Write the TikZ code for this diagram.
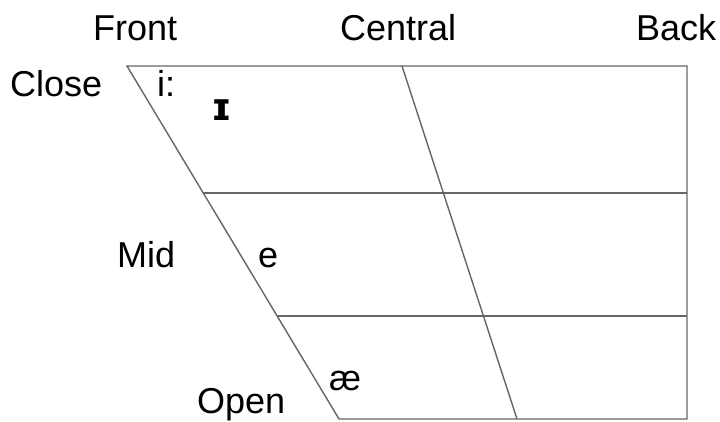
\documentclass[tikz,border=0pt]{standalone}
\usepackage{fontspec}
\setmainfont{Liberation Sans}
\newfontfamily\ipafont{DejaVu Sans}
\begin{document}
\begin{tikzpicture}[x=1pt,y=-1pt,
  lab/.style={anchor=base west,inner sep=0pt,font=\fontsize{36}{36}\selectfont},
  edge/.style={draw=black!60,line width=1.4pt}]
\useasboundingbox[fill=white] (0,0) rectangle (720,421);
\coordinate (tl) at (127,66);
\coordinate (tr) at (687,66);
\coordinate (br) at (687,419);
\coordinate (bl) at (339,419);
\coordinate (ml) at (203,193);
\coordinate (mr) at (687,193);
\coordinate (ll) at (278,316);
\coordinate (lr) at (687,316);
\coordinate (ct) at (402,66);
\coordinate (cb) at (517,419);
\draw[edge] (tl) -- (tr) -- (br) -- (bl) -- cycle;
\draw[edge] (ml) -- (mr);
\draw[edge] (ll) -- (lr);
\draw[edge] (ct) -- (cb);
\node[lab] (front) at (93,40) {Front};
\node[lab] (central) at (340,40) {Central};
\node[lab] (back) at (636,40) {Back};
\node[lab] (close) at (10,96) {Close};
\node[lab] (ii) at (157,96) {i:};
\node[lab,font=\ipafont\bfseries\fontsize{38}{38}\selectfont] (ih) at (211,120) {ɪ};
\node[lab] (mid) at (117,267) {Mid};
\node[lab] (e) at (258,267) {e};
\node[lab] (ae) at (329,390) {æ};
\node[lab] (open) at (197,413) {Open};
\end{tikzpicture}
\end{document}
